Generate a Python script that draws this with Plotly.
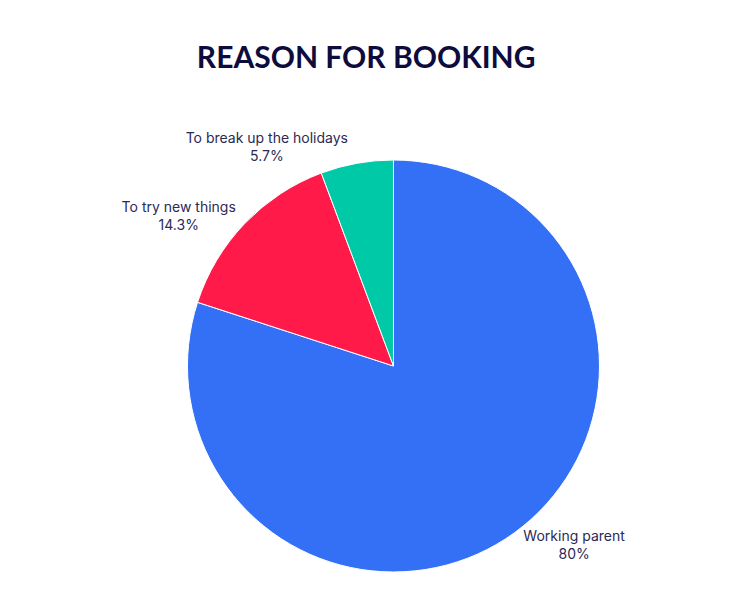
import plotly.graph_objects as go

labels = ["Working parent", "To try new things", "To break up the holidays"]
values = [80, 14.3, 5.7]
colors = ["#3370F5", "#FF1A4A", "#00C9A7"]

fig = go.Figure(go.Pie(
    labels=labels,
    values=values,
    sort=False,
    direction="clockwise",
    rotation=0,
    marker=dict(colors=colors, line=dict(color="white", width=1)),
    textposition="outside",
    texttemplate="%{label}<br>%{value}%",
    textfont=dict(family="Inter", size=14, color="#2b2a55"),
    showlegend=False,
    hoverinfo="label+value",
    domain=dict(x=[0.0, 0.96], y=[0, 1]),
))

fig.update_layout(
    width=731, height=609,
    paper_bgcolor="white", plot_bgcolor="white",
    title=dict(text="<b>REASON FOR BOOKING</b>", x=0.49, xanchor="center", y=0.918, yanchor="middle",
               font=dict(family="Lato", size=30, color="#0d0c3d")),
    margin=dict(l=0, r=0, t=152, b=45),
)

fig.write_html("out.html")
